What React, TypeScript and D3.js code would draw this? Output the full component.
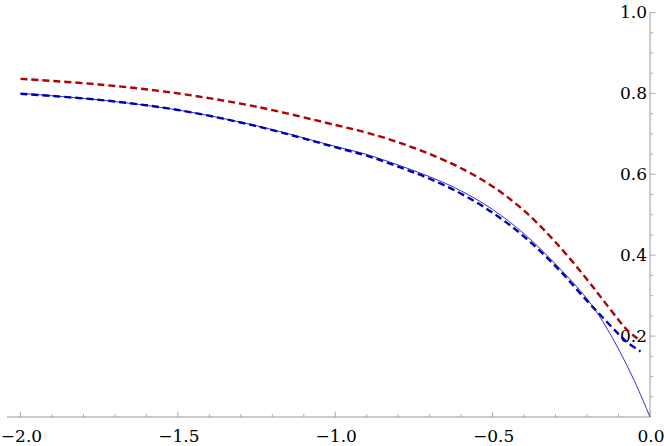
import * as React from "react";
import * as d3 from "d3";

// red dashed curve
const redX = [-2.0, -1.75, -1.5, -1.25, -1.0, -0.9, -0.8, -0.7, -0.6, -0.5, -0.4, -0.3, -0.2, -0.15, -0.1, -0.07, -0.04];
const redY = [0.836, 0.822, 0.8, 0.767, 0.722, 0.703, 0.679, 0.65, 0.615, 0.57, 0.51, 0.432, 0.34, 0.29, 0.24, 0.213, 0.194];

// blue dashed curve
const blueDashX = [-2.0, -1.75, -1.5, -1.25, -1.0, -0.9, -0.8, -0.7, -0.6, -0.5, -0.4, -0.3, -0.2, -0.15, -0.1, -0.07, -0.03];
const blueDashY = [0.799, 0.784, 0.759, 0.719, 0.667, 0.646, 0.619, 0.589, 0.552, 0.505, 0.446, 0.373, 0.287, 0.246, 0.205, 0.183, 0.162];

// blue solid curve
const blueX = [-2.0, -1.75, -1.5, -1.25, -1.0, -0.9, -0.8, -0.7, -0.6, -0.5, -0.4, -0.3, -0.2, -0.15, -0.1, -0.05, 0.0];
const blueY = [0.8, 0.784, 0.759, 0.72, 0.669, 0.649, 0.623, 0.594, 0.559, 0.513, 0.453, 0.378, 0.292, 0.236, 0.168, 0.09, 0.0];

const xTicks = [-2.0, -1.5, -1.0, -0.5, 0.0];
const yTicks = [0.2, 0.4, 0.6, 0.8, 1.0];

const fmt = (v: number) => (v < 0 ? "\u2212" + Math.abs(v).toFixed(1) : v.toFixed(1));

export default function App() {
  const width = 664;
  const height = 446;

  const x = d3.scaleLinear().domain([-2, 0]).range([20.5, 650]);
  const y = d3.scaleLinear().domain([0, 1]).range([417, 12.5]);

  const line = d3
    .line<[number, number]>()
    .x((d) => x(d[0]))
    .y((d) => y(d[1]))
    .curve(d3.curveCatmullRom.alpha(0.5));

  const zip = (xs: number[], ys: number[]) => xs.map((v, i) => [v, ys[i]] as [number, number]);

  const xMinor = d3.range(-20, 1).map((i) => i / 10);
  const yMinor = d3.range(1, 21).map((i) => i / 20);

  const axisColor = "#999";
  const textStyle = { fontFamily: "'DejaVu Serif', 'Liberation Serif', serif", fontSize: "17px" };

  return (
    <svg width={width} height={height} style={{ position: "absolute", left: 0, top: 0, background: "#fff" }}>
      {/* x axis */}
      <line x1={7} x2={650} y1={y(0)} y2={y(0)} stroke={axisColor} strokeWidth={1} />
      {xMinor.map((v, i) => {
        const major = Math.abs(v * 2 - Math.round(v * 2)) < 1e-6;
        return (
          <line
            key={"xm" + i}
            x1={x(v)}
            x2={x(v)}
            y1={y(0)}
            y2={y(0) - (major ? 5.5 : 3)}
            stroke={axisColor}
            strokeWidth={0.8}
          />
        );
      })}
      {xTicks.map((v) => (
        <text key={"xt" + v} x={x(v) + 1} y={442} textAnchor="middle" style={textStyle} fill="#000">
          {fmt(v)}
        </text>
      ))}

      {/* y axis */}
      <line x1={650} x2={650} y1={y(1)} y2={y(0)} stroke={axisColor} strokeWidth={1} />
      {yMinor.map((v, i) => {
        const major = Math.abs(v * 5 - Math.round(v * 5)) < 1e-6;
        return (
          <line
            key={"ym" + i}
            x1={650}
            x2={650 + (major ? 5.5 : 3)}
            y1={y(v)}
            y2={y(v)}
            stroke={axisColor}
            strokeWidth={0.8}
          />
        );
      })}
      {yTicks.map((v) => (
        <text key={"yt" + v} x={647} y={y(v)} dy="0.35em" textAnchor="end" style={textStyle} fill="#000">
          {fmt(v)}
        </text>
      ))}

      {/* curves */}
      <path d={line(zip(blueX, blueY)) || ""} fill="none" stroke="#2f2fd0" strokeWidth={1} />
      <path
        d={line(zip(blueDashX, blueDashY)) || ""}
        fill="none"
        stroke="#0000b0"
        strokeWidth={2.4}
        strokeDasharray="7,4"
      />
      <path
        d={line(zip(redX, redY)) || ""}
        fill="none"
        stroke="#b00000"
        strokeWidth={2.4}
        strokeDasharray="7,4"
      />
    </svg>
  );
}
